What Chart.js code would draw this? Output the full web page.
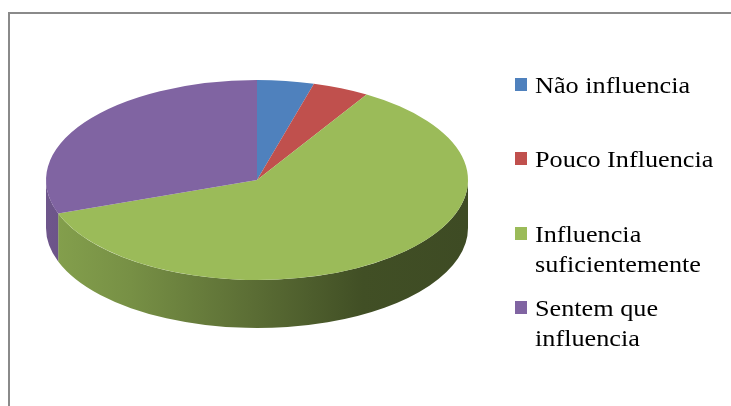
<!DOCTYPE html>
<html>
<head>
<meta charset="utf-8">
<script src="https://cdn.jsdelivr.net/npm/chart.js@4.4.0/dist/chart.umd.min.js"></script>
<style>
  html, body { margin: 0; padding: 0; background: #fff; overflow: hidden; }
  #wrap { position: relative; width: 731px; height: 406px; overflow: hidden; }
  #pie { position: absolute; left: 0; top: 0; }
  .leg-item { position: absolute; left: 515px; }
  .leg-box { position: absolute; left: 0; width: 12px; height: 13px; }
  .leg-text { position: absolute; left: 20px; width: 160px;
              font-family: "Liberation Serif", "Times New Roman", serif;
              font-size: 23px; line-height: 29.7px; color: #000;
              transform: scaleX(1.14); transform-origin: left top; }
</style>
</head>
<body>
<div id="wrap">
  <canvas id="pie" width="731" height="406"></canvas>
  <div id="legend"></div>
</div>
<script>
const categories = ['Não influencia', 'Pouco Influencia', 'Influencia suficientemente', 'Sentem que influencia'];
const responses = [1, 1, 14, 7];
const sliceColors = ['#4F81BD', '#C0504D', '#9BBB59', '#8064A2'];

// flattened 3D look: ellipse radii and wall height
const RX = 211, RY = 100, DEPTH = 48;

function shade(hex, f) {
    const n = parseInt(hex.slice(1), 16);
    const r = Math.round(((n >> 16) & 255) * f);
    const g = Math.round(((n >> 8) & 255) * f);
    const b = Math.round((n & 255) * f);
    return `rgb(${r},${g},${b})`;
}

// chart border: only the top and left edges fall inside the canvas
const framePlugin = {
    id: 'frame',
    beforeDraw(chart) {
        const ctx = chart.ctx;
        ctx.save();
        ctx.strokeStyle = '#8a8a8a';
        ctx.lineWidth = 2;
        ctx.beginPath();
        ctx.moveTo(9, chart.height);
        ctx.lineTo(9, 13);
        ctx.lineTo(chart.width, 13);
        ctx.stroke();
        ctx.restore();
    }
};

const tiltPlugin = {
    id: 'tilt',
    beforeDatasetsDraw(chart) {
        const ctx = chart.ctx;
        const arcs = chart.getDatasetMeta(0).data;
        const cx = arcs[0].x, cy = arcs[0].y, R = arcs[0].outerRadius;

        // side walls, only the front half (0..PI) is visible
        arcs.forEach((arc, i) => {
            const s = Math.max(arc.startAngle, 0);
            const e = Math.min(arc.endAngle, Math.PI);
            if (e <= s) return;
            const base = sliceColors[i];
            const grad = ctx.createLinearGradient(cx - RX, 0, cx + RX, 0);
            grad.addColorStop(0, shade(base, 0.86));
            grad.addColorStop(0.2, shade(base, 0.77));
            grad.addColorStop(0.5, shade(base, 0.58));
            grad.addColorStop(0.75, shade(base, 0.42));
            grad.addColorStop(1, shade(base, 0.40));
            ctx.save();
            ctx.beginPath();
            ctx.ellipse(cx, cy, RX, RY, 0, s, e, false);
            ctx.ellipse(cx, cy + DEPTH, RX, RY, 0, e, s, true);
            ctx.closePath();
            ctx.fillStyle = grad;
            ctx.fill();
            ctx.restore();
        });

        // squash the round pie into the top face ellipse
        ctx.save();
        ctx.translate(cx, cy);
        ctx.scale(RX / R, RY / R);
        ctx.translate(-cx, -cy);
    },
    afterDatasetsDraw(chart) {
        chart.ctx.restore();
    }
};

new Chart(document.getElementById('pie'), {
    type: 'pie',
    data: {
        labels: categories,
        datasets: [{
            data: responses,
            backgroundColor: sliceColors,
            borderWidth: 0,
            clip: false
        }]
    },
    options: {
        responsive: false,
        animation: false,
        events: [],
        layout: { padding: { left: 157, right: 374, top: 80, bottom: 126 } },
        plugins: { legend: { display: false }, tooltip: { enabled: false } }
    },
    plugins: [framePlugin, tiltPlugin]
});

// legend on the right, entries wrap like the original
const legendTops = [70.7, 144.7, 220.1, 294.1];
const legend = document.getElementById('legend');
categories.forEach((name, i) => {
    const item = document.createElement('div');
    item.className = 'leg-item';
    item.style.top = legendTops[i] + 'px';
    item.innerHTML = `<div class="leg-box" style="top:7px;background:${sliceColors[i]}"></div>` +
        `<div class="leg-text">${name}</div>`;
    legend.appendChild(item);
});
</script>
</body>
</html>
